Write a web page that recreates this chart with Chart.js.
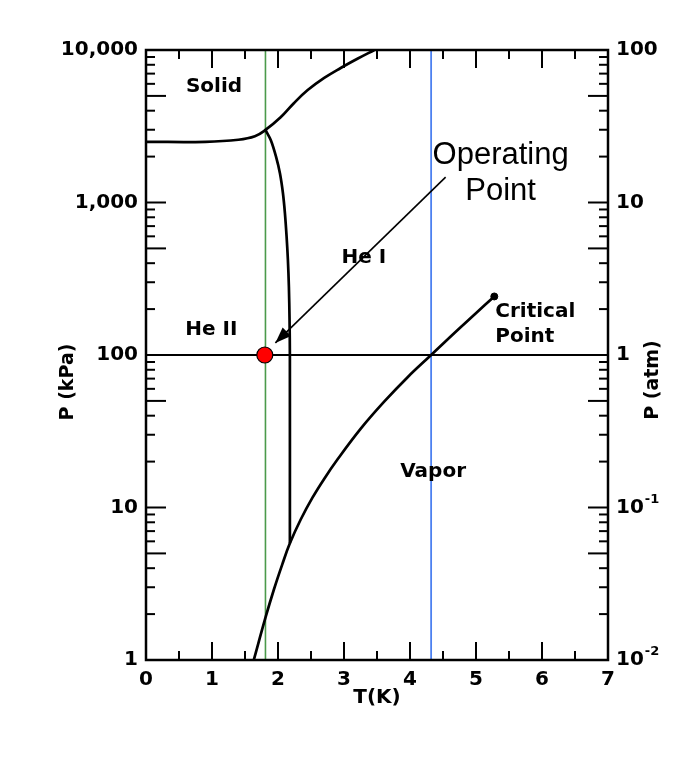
<!DOCTYPE html>
<html><head><meta charset="utf-8">
<script src="https://cdn.jsdelivr.net/npm/chart.js@4/dist/chart.umd.min.js"></script>
<style>html,body{margin:0;padding:0;background:#fff}canvas{display:block}</style>
</head><body>
<canvas id="c" width="695" height="769"></canvas>
<script>
// ---- data ----
const xTickValues = [0, 1, 2, 3, 4, 5, 6, 7];
const kpaTickValues = [1, 10, 100, 1000, 10000];
const kpaTickLabels = ['1', '10', '100', '1,000', '10,000'];
const atmTickValues = [0.01, 0.1, 1, 10, 100];
const atmTickBase = ['10', '10', '1', '10', '100'];
const atmTickExp = ['-2', '-1', '', '', ''];

// melting curve (solid boundary), T in K, P in kPa
const meltT = [0, 0.9, 1.4, 1.65, 1.81, 2.04, 2.24, 2.45, 2.70, 2.95, 3.21, 3.46];
const meltP = [2500, 2500, 2580, 2720, 2990, 3620, 4480, 5460, 6560, 7620, 8790, 10000];
// lambda line (He I / He II boundary)
const lambdaT = [1.81, 1.89, 1.97, 2.03, 2.075, 2.105, 2.13, 2.15, 2.165, 2.175, 2.18, 2.18];
const lambdaP = [2990, 2570, 2000, 1550, 1150, 850, 600, 420, 280, 170, 100, 5.82];
// vapour-pressure curve up to the critical point
const vaporT = [1.633, 1.811, 1.938, 2.065, 2.18, 2.344, 2.522, 2.699, 2.903, 3.257, 3.612, 3.968, 4.32, 4.677, 4.982, 5.277];
const vaporP = [1, 1.90, 2.90, 4.24, 5.82, 8.34, 11.6, 15.4, 20.7, 33.0, 49.6, 71.8, 100, 140, 185, 242];

const operatingT = [1.8];
const operatingP = [100];
const criticalT = [5.277];
const criticalP = [242];
const oneAtmP = 100;          // horizontal line
const greenLineT = 1.81;      // vertical green line
const blueLineT = 4.32;       // vertical blue line

const regionLabels = ['Solid', 'He II', 'He I', 'Vapor'];
const regionT = [1.03, 0.99, 3.30, 4.35];
const regionP = [5720, 146, 432, 17.2];
const criticalLabel = ['Critical', 'Point'];
const operatingLabel = ['Operating', 'Point'];
const arrowFromT = 4.54, arrowFromP = 1468, arrowToT = 1.96, arrowToP = 120;

// ---- helpers ----
const pts = (xs, ys) => xs.map((v, i) => ({x: v, y: ys[i]}));
const FONT = '"DejaVu Sans", sans-serif';

const overlay = {
  id: 'overlay',
  afterDatasetsDraw(chart) {
    const {ctx, chartArea: a, scales: {x, y, y2}} = chart;
    ctx.save();
    const line = (x1, y1, x2, y2_) => { ctx.beginPath(); ctx.moveTo(x1, y1); ctx.lineTo(x2, y2_); ctx.stroke(); };
    ctx.strokeStyle = '#000';
    // inward ticks
    ctx.lineWidth = 2;
    for (let v = 0; v <= 7.001; v += 0.5) {
      const px = x.getPixelForValue(v);
      const L = Math.abs(v - Math.round(v)) < 1e-6 ? 18 : 9;
      line(px, a.bottom, px, a.bottom - L);
      line(px, a.top, px, a.top + L);
    }
    for (let e = 0; e < 4; e++) {
      for (let m = 1; m <= 9; m++) {
        const py = y.getPixelForValue(m * Math.pow(10, e));
        const L = (m === 1 || m === 5) ? 20 : 9;
        line(a.left, py, a.left + L, py);
        line(a.right, py, a.right - L, py);
      }
    }
    // frame
    ctx.lineWidth = 2.5;
    ctx.strokeRect(a.left, a.top, a.right - a.left, a.bottom - a.top);

    // arrow head
    const x1 = x.getPixelForValue(arrowFromT), y1 = y.getPixelForValue(arrowFromP);
    const x2 = x.getPixelForValue(arrowToT), y2p = y.getPixelForValue(arrowToP);
    const ang = Math.atan2(y2p - y1, x2 - x1);
    ctx.fillStyle = '#000';
    ctx.beginPath();
    ctx.moveTo(x2, y2p);
    ctx.lineTo(x2 - 16 * Math.cos(ang) + 6 * Math.sin(ang), y2p - 16 * Math.sin(ang) - 6 * Math.cos(ang));
    ctx.lineTo(x2 - 16 * Math.cos(ang) - 6 * Math.sin(ang), y2p - 16 * Math.sin(ang) + 6 * Math.cos(ang));
    ctx.closePath();
    ctx.fill();

    // region labels
    ctx.fillStyle = '#000';
    ctx.font = 'bold 20px ' + FONT;
    ctx.textAlign = 'center';
    ctx.textBaseline = 'middle';
    regionLabels.forEach((t, i) => ctx.fillText(t, x.getPixelForValue(regionT[i]), y.getPixelForValue(regionP[i])));
    // critical point label
    ctx.textAlign = 'left';
    const cx = x.getPixelForValue(criticalT[0]) + 1;
    const cy = y.getPixelForValue(criticalP[0]);
    ctx.fillText(criticalLabel[0], cx, cy + 15);
    ctx.fillText(criticalLabel[1], cx, cy + 40);
    // operating point label
    ctx.font = '31px "Liberation Sans", Arial, sans-serif';
    ctx.textAlign = 'center';
    ctx.textBaseline = 'alphabetic';
    const ox = x1 + 55;
    ctx.fillText(operatingLabel[0], ox, y1 - 13);
    ctx.fillText(operatingLabel[1], ox, y1 + 23);

    // right axis labels (atm) with superscripts
    ctx.textAlign = 'left';
    ctx.textBaseline = 'middle';
    atmTickValues.forEach((v, i) => {
      const py = y2.getPixelForValue(v);
      ctx.font = 'bold 20px ' + FONT;
      const bx = a.right + 8;
      ctx.fillText(atmTickBase[i], bx, py);
      if (atmTickExp[i]) {
        const w = ctx.measureText(atmTickBase[i]).width;
        ctx.font = 'bold 13px ' + FONT;
        ctx.fillText(atmTickExp[i], bx + w + 1, py - 8);
      }
    });

    // y axis titles
    ctx.font = 'bold 19px ' + FONT;
    ctx.textAlign = 'center';
    ctx.textBaseline = 'middle';
    ctx.save();
    ctx.translate(68, 382);
    ctx.rotate(-Math.PI / 2);
    ctx.fillText('P (kPa)', 0, 0);
    ctx.restore();
    ctx.save();
    ctx.translate(653, 380);
    ctx.rotate(-Math.PI / 2);
    ctx.fillText('P (atm)', 0, 0);
    ctx.restore();
    ctx.restore();
  }
};

const lineDs = (data, color, width, order, tension) => ({
  data, borderColor: color, borderWidth: width, showLine: true,
  pointRadius: 0, fill: false, tension: tension || 0, order
});

new Chart(document.getElementById('c'), {
  type: 'scatter',
  data: {
    datasets: [
      lineDs(pts([greenLineT, greenLineT], [1, 10000]), '#4b9a4b', 1.6, 9),
      lineDs(pts([blueLineT, blueLineT], [1, 10000]), '#4c80f0', 1.8, 9),
      lineDs(pts([0, 7], [oneAtmP, oneAtmP]), '#000', 2, 8),
      lineDs(pts(meltT, meltP), '#000', 2.7, 5, 0.4),
      lineDs(pts(lambdaT, lambdaP), '#000', 2.7, 5, 0.3),
      lineDs(pts(vaporT, vaporP), '#000', 2.7, 5, 0.4),
      lineDs(pts([arrowFromT, arrowToT], [arrowFromP, arrowToP]), '#000', 1.6, 4),
      {data: pts(criticalT, criticalP), pointRadius: 3.5, backgroundColor: '#000', borderColor: '#000', order: 3},
      {data: pts(operatingT, operatingP), pointRadius: 8, backgroundColor: '#ff0000', borderColor: '#000', borderWidth: 1.2, order: 0}
    ]
  },
  options: {
    responsive: false,
    animation: false,
    devicePixelRatio: 1,
    layout: {padding: {top: 50, left: 0, right: 0, bottom: 0}},
    plugins: {legend: {display: false}, tooltip: {enabled: false}},
    events: [],
    scales: {
      x: {
        type: 'linear', min: 0, max: 7,
        afterBuildTicks: s => { s.ticks = xTickValues.map(v => ({value: v})); },
        afterFit: s => { s.height = 109; },
        grid: {display: false, drawTicks: false},
        border: {display: false},
        ticks: {color: '#000', font: {family: FONT, size: 20, weight: 'bold'}, padding: 8, maxRotation: 0},
        title: {display: true, text: 'T(K)', color: '#000', font: {family: FONT, size: 20, weight: 'bold'}, padding: {top: 0, bottom: 59}}
      },
      y: {
        type: 'logarithmic', position: 'left', min: 1, max: 10000,
        afterBuildTicks: s => { s.ticks = kpaTickValues.map(v => ({value: v})); },
        afterFit: s => { s.width = 146; },
        grid: {display: false, drawTicks: false},
        border: {display: false},
        ticks: {color: '#000', font: {family: FONT, size: 20, weight: 'bold'}, padding: 8,
          callback: (v) => { const i = kpaTickValues.indexOf(v); return i >= 0 ? kpaTickLabels[i] : ''; }}
      },
      y2: {
        type: 'logarithmic', position: 'right', min: 0.01, max: 100,
        afterBuildTicks: s => { s.ticks = atmTickValues.map(v => ({value: v})); },
        afterFit: s => { s.width = 87; },
        grid: {display: false, drawTicks: false},
        border: {display: false},
        ticks: {display: false}
      }
    }
  },
  plugins: [overlay]
});
</script>
</body></html>
